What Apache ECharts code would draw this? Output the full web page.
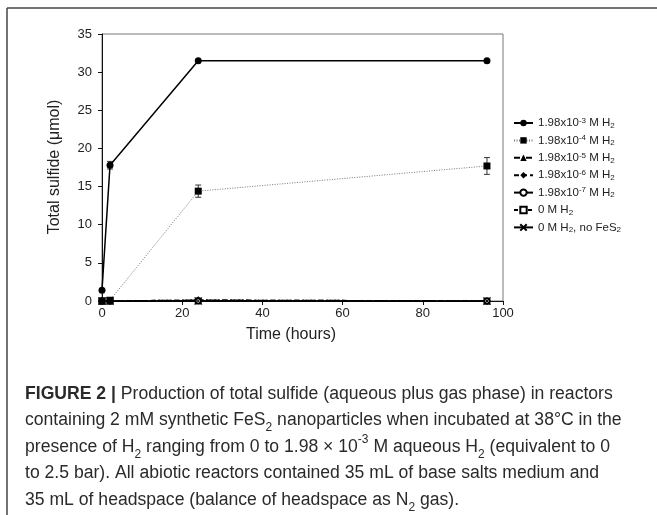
<!DOCTYPE html>
<html>
<head>
<meta charset="utf-8">
<script src="https://cdn.jsdelivr.net/npm/echarts@6/dist/echarts.min.js"></script>
<style>html,body{margin:0;padding:0;background:#fff}#c{width:657px;height:515px}</style>
</head>
<body>
<div id="c"></div>
<script>
// ---- data ----
const times = [0, 2, 24, 96];
const seriesNames = ['1.98e-3', '1.98e-4', '1.98e-5', '1.98e-6', '1.98e-7', '0', '0 noFeS2'];
const s1 = [1.4, 17.8, 31.5, 31.5];
const s1Err = [0, 0.5, 0, 0];
const s2 = [0, 0.1, 14.4, 17.7];
const s2Err = [0, 0, 0.8, 1.1];
const s3 = [0, 0, 0.1, 0];
const s4 = [0, 0, 0.1, 0];
const s5 = [0, 0, 0.05, 0];
const s6 = [0, 0, 0, 0];
const s7 = [0, 0, 0, 0];
const xTicks = [0, 20, 40, 60, 80, 100];
const yTicks = [0, 5, 10, 15, 20, 25, 30, 35];
const legendLabels = {
  '1.98e-3': '{n|1.98x10}{sup|-3}{n| M H}{sub|2}',
  '1.98e-4': '{n|1.98x10}{sup|-4}{n| M H}{sub|2}',
  '1.98e-5': '{n|1.98x10}{sup|-5}{n| M H}{sub|2}',
  '1.98e-6': '{n|1.98x10}{sup|-6}{n| M H}{sub|2}',
  '1.98e-7': '{n|1.98x10}{sup|-7}{n| M H}{sub|2}',
  '0': '{n|0 M H}{sub|2}',
  '0 noFeS2': '{n|0 M H}{sub|2}{n|, no FeS}{sub|2}'
};
const captionLines = [
  '{b|FIGURE 2 |} {n|Production of total sulfide (aqueous plus gas phase) in reactors}',
  '{n|containing 2 mM synthetic FeS}{sub|2}{n| nanoparticles when incubated at 38°C in the}',
  '{n|presence of H}{sub|2}{n| ranging from 0 to 1.98 × 10}{sup|-3}{n| M aqueous H}{sub|2}{n| (equivalent to 0}',
  '{n|to 2.5 bar). All abiotic reactors contained 35 mL of base salts medium and}',
  '{n|35 mL of headspace (balance of headspace as N}{sub|2}{n| gas).}'
];

const pair = (ys) => times.map((t, i) => [t, ys[i]]);
const errData = (ys, es) => times.map((t, i) => [t, ys[i], es[i]]).filter(d => d[2] > 0);

const FONT = 'Liberation Sans';
const chart = echarts.init(document.getElementById('c'), null, {renderer: 'canvas'});

function errRender(params, api) {
  const x = api.value(0), y = api.value(1), e = api.value(2);
  const top = api.coord([x, y + e]);
  const bot = api.coord([x, y - e]);
  const w = 3;
  const st = {stroke: '#333', lineWidth: 1};
  return {type: 'group', children: [
    {type: 'line', shape: {x1: top[0], y1: top[1], x2: bot[0], y2: bot[1]}, style: st},
    {type: 'line', shape: {x1: top[0] - w, y1: top[1], x2: top[0] + w, y2: top[1]}, style: st},
    {type: 'line', shape: {x1: bot[0] - w, y1: bot[1], x2: bot[0] + w, y2: bot[1]}, style: st}
  ]};
}

const lineBase = {type: 'line', clip: false, z: 3};
const CAPC = '#2a2a2a';
const capRich = {
  n: {fontFamily: FONT, fontSize: 17.6, color: CAPC, lineHeight: 27},
  b: {fontFamily: FONT, fontSize: 17.6, fontWeight: 'bold', color: CAPC, lineHeight: 27},
  sub: {fontFamily: FONT, fontSize: 12, color: CAPC, lineHeight: 16, verticalAlign: 'bottom'},
  sup: {fontFamily: FONT, fontSize: 12, color: CAPC, lineHeight: 18, verticalAlign: 'top'}
};
const capY = [394, 420.5, 447, 473.5, 500];

const option = {
  animation: false,
  backgroundColor: '#fff',
  grid: {left: 102, right: 154, top: 34, bottom: 214, show: true, borderColor: '#777', borderWidth: 1, containLabel: false},
  xAxis: {
    type: 'value', min: xTicks[0], max: xTicks[xTicks.length - 1], interval: 20,
    axisLine: {show: true, lineStyle: {color: '#111', width: 1}},
    axisTick: {show: true, inside: false, length: 4, lineStyle: {color: '#111'}},
    splitLine: {show: false},
    axisLabel: {fontFamily: FONT, fontSize: 13, color: '#222', margin: 6}
  },
  yAxis: {
    type: 'value', min: yTicks[0], max: yTicks[yTicks.length - 1], interval: 5,
    axisLine: {show: true, lineStyle: {color: '#111', width: 1}},
    axisTick: {show: true, inside: false, length: 4, lineStyle: {color: '#111'}},
    splitLine: {show: false},
    axisLabel: {fontFamily: FONT, fontSize: 13, color: '#222', margin: 10}
  },
  legend: {
    orient: 'vertical', left: 513, top: 116.5, padding: 0,
    itemWidth: 19, itemHeight: 8, itemGap: 4.4,
    data: seriesNames,
    formatter: (name) => legendLabels[name],
    textStyle: {
      fontFamily: FONT, fontSize: 11.5, color: '#222', lineHeight: 13,
      rich: {
        n: {fontFamily: FONT, fontSize: 11.5, color: '#222', lineHeight: 13},
        sup: {fontFamily: FONT, fontSize: 8, color: '#222', lineHeight: 8, verticalAlign: 'top'},
        sub: {fontFamily: FONT, fontSize: 8, color: '#222', lineHeight: 6, verticalAlign: 'bottom'}
      }
    }
  },
  graphic: [
    {type: 'line', shape: {x1: 7, y1: 8, x2: 657, y2: 8}, style: {stroke: '#444', lineWidth: 1.5}},
    {type: 'line', shape: {x1: 7, y1: 8, x2: 7, y2: 515}, style: {stroke: '#444', lineWidth: 1.5}},
    {type: 'text', x: 291, y: 335, style: {text: 'Time (hours)', fontFamily: FONT, fontSize: 16, fill: '#222', align: 'center', verticalAlign: 'middle'}},
    {type: 'text', x: 55, y: 167, rotation: Math.PI / 2, style: {text: 'Total sulfide (μmol)', fontFamily: FONT, fontSize: 16, fill: '#222', align: 'center', verticalAlign: 'middle'}}
  ].concat(captionLines.map((t, i) => ({
    type: 'text', x: 25, y: capY[i],
    style: {text: t, rich: capRich, fontFamily: FONT, fontSize: 17.6, fill: CAPC, align: 'left', verticalAlign: 'middle'}
  }))),
  series: [
    Object.assign({}, lineBase, {name: seriesNames[0], data: pair(s1), symbol: 'circle', symbolSize: 7,
      lineStyle: {color: '#000', width: 1.5, type: 'solid'}, itemStyle: {color: '#000'}, z: 6}),
    Object.assign({}, lineBase, {name: seriesNames[1], data: pair(s2), symbol: 'rect', symbolSize: 7,
      lineStyle: {color: '#777', width: 1, type: [1, 1.5]}, itemStyle: {color: '#000'}, z: 5}),
    Object.assign({}, lineBase, {name: seriesNames[2], data: pair(s3), symbol: 'triangle', symbolSize: 7,
      lineStyle: {color: '#000', width: 1.5, type: [6, 2, 2, 2]}, itemStyle: {color: '#000'}}),
    Object.assign({}, lineBase, {name: seriesNames[3], data: pair(s4), symbol: 'diamond', symbolSize: 8,
      lineStyle: {color: '#000', width: 1.5, type: [5, 3]}, itemStyle: {color: '#000'}}),
    Object.assign({}, lineBase, {name: seriesNames[4], data: pair(s5), symbol: 'emptyCircle', symbolSize: 4,
      lineStyle: {color: '#000', width: 1.2, type: 'solid'}, itemStyle: {color: '#000', borderColor: '#000', borderWidth: 1}}),
    Object.assign({}, lineBase, {name: seriesNames[5], data: pair(s6), symbol: 'emptyRect', symbolSize: 5,
      lineStyle: {color: '#000', width: 1.2, type: [4, 3]}, itemStyle: {color: '#000', borderColor: '#000', borderWidth: 1}}),
    Object.assign({}, lineBase, {name: seriesNames[6], data: pair(s7), symbol: 'path://M0,0L10,10M10,0L0,10', symbolSize: 7,
      lineStyle: {color: '#000', width: 1.2, type: 'solid'}, itemStyle: {color: 'none', borderColor: '#000', borderWidth: 1}}),
    {type: 'custom', name: 'err1', renderItem: errRender, data: errData(s1, s1Err), encode: {x: 0, y: 1}, z: 4, clip: false},
    {type: 'custom', name: 'err2', renderItem: errRender, data: errData(s2, s2Err), encode: {x: 0, y: 1}, z: 4, clip: false}
  ]
};
chart.setOption(option);
</script>
</body>
</html>
